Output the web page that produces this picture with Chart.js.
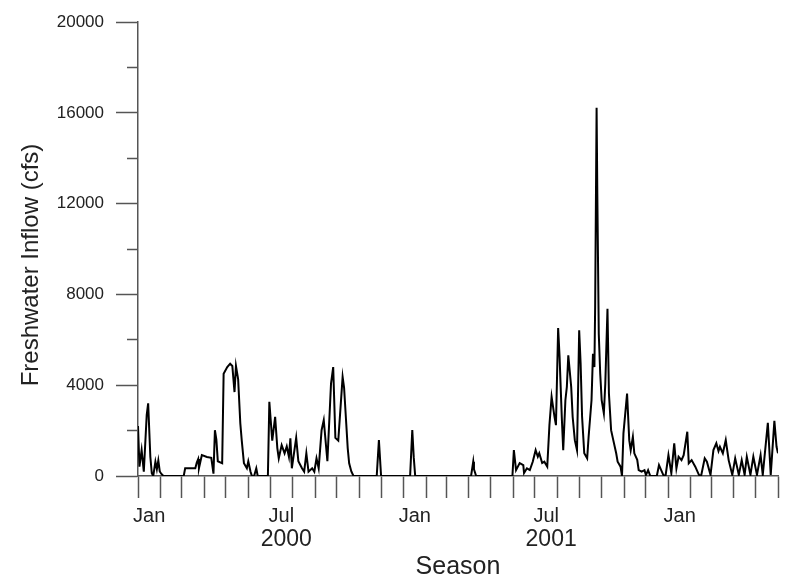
<!DOCTYPE html>
<html>
<head>
<meta charset="utf-8">
<script src="https://cdn.jsdelivr.net/npm/chart.js@4.4.1/dist/chart.umd.min.js"></script>
<style>
  html, body { margin: 0; padding: 0; background: #fff; }
  canvas { display: block; }
</style>
</head>
<body>
<canvas id="inflowChart" width="787" height="580"></canvas>
<script>
    // Days since 1 Jan 2000 and daily freshwater inflow (cfs)
    const days = [0, 2, 5, 8, 12, 14, 17, 19, 21, 24, 26, 28, 30, 32, 35,
        63, 65, 79, 81, 83, 84, 88, 95, 101, 104, 106, 108, 110, 116, 118,
        123, 127, 130, 133, 135, 138, 141, 143, 146, 150, 152, 155, 157, 160, 163,
        165, 179, 181, 185, 189, 192, 194, 198, 202, 205, 208, 210, 212, 218, 221,
        226, 229, 232, 235, 240, 243, 246, 249, 253, 256, 261, 266, 269, 272, 276,
        282, 284, 287, 289, 291, 294, 297, 329, 332, 335, 375, 378, 380, 382, 459,
        462, 463, 466, 516, 518, 521, 526, 531, 532, 536, 540, 544, 548, 551, 553,
        557, 560, 564, 567, 570, 574, 576, 579, 581, 584, 586, 589, 591, 593, 597,
        599, 602, 605, 608, 610, 612, 615, 619, 621, 625, 627, 629, 630, 632, 633,
        635, 637, 639, 642, 644, 647, 649, 652, 655, 659, 661, 665, 667, 669, 674,
        677, 679, 682, 684, 688, 690, 694, 698, 700, 703, 706, 715, 718, 721, 724,
        727, 731, 735, 739, 742, 745, 749, 752, 757, 759, 763, 768, 773, 776, 781,
        784, 789, 793, 797, 800, 802, 806, 810, 814, 819, 823, 828, 832, 836, 839,
        844, 848, 853, 858, 861, 868, 872, 877, 880, 882];

    const flow = [2200, 410, 1140, 190, 2680, 3200, 850, 120, 0, 630, 300, 680, 200, 100, 0,
        0, 340, 340, 590, 750, 340, 920, 840, 800, 100, 2020, 1600, 650, 560, 4510,
        4800, 4950, 4850, 3700, 4850, 4270, 2320, 1560, 560, 340, 650, 200, 0, 0, 340,
        0, 0, 3270, 1560, 2610, 1230, 780, 1360, 1000, 1300, 850, 1660, 340, 1680, 650,
        340, 190, 1000, 190, 340, 190, 780, 340, 2020, 2460, 650, 4070, 4800, 1680, 1560,
        4370, 3900, 2300, 1230, 560, 200, 0, 0, 1580, 0, 0, 2020, 830, 0, 0,
        630, 300, 0, 0, 1140, 260, 570, 480, 130, 340, 260, 630, 1140, 850, 1000,
        570, 630, 410, 2240, 3490, 2610, 2240, 6520, 5240, 2610, 1140, 3340, 3930, 5320, 3930,
        2610, 1580, 1140, 6420, 4950, 2610, 1000, 780, 1730, 3340, 5390, 4800, 7440, 16230, 12430,
        6270, 4510, 3340, 2760, 4070, 7370, 3630, 2020, 1580, 1000, 630, 410, 0, 1880, 3630,
        1580, 1140, 1730, 1000, 710, 260, 190, 260, 40, 260, 0, 0, 480, 260, 40,
        0, 920, 120, 1440, 340, 850, 700, 920, 1950, 560, 700, 410, 50, 0, 780,
        630, 50, 1140, 1440, 1100, 1290, 1000, 1580, 700, 50, 780, 50, 700, 50, 850,
        50, 850, 50, 920, 50, 2340, 50, 2430, 1290, 1000];

    // Axis labels
    const seasonLabels = ['Jan', 'Jul', 'Jan', 'Jul', 'Jan'];
    const seasonMonths = [0, 6, 12, 18, 24];
    const yearLabels = ['2000', '2001'];
    const yearMonths = [6, 18];
    const monthCount = 29;
    const yTitle = 'Freshwater Inflow (cfs)';

    const FONT = 'Arial, "Liberation Sans", sans-serif';
    const AXIS_COLOR = '#555';

    // day offset for the start of month m (counted from Jan 2000)
    function monthStart(m) {
        return (Date.UTC(2000, m, 1) - Date.UTC(2000, 0, 1)) / 86400000;
    }
    function monthMid(m) {
        return (monthStart(m) + monthStart(m + 1)) / 2;
    }

    const points = days.map((d, i) => ({ x: d, y: flow[i] }));

    // Month names and years sit between the tick marks; y title sits a bit low
    const seasonLabelPlugin = {
        id: 'seasonLabels',
        afterDraw(chart) {
            const ctx = chart.ctx;
            const xs = chart.scales.x;
            ctx.save();
            ctx.fillStyle = '#222';
            ctx.textAlign = 'center';
            ctx.textBaseline = 'middle';
            ctx.font = '20px ' + FONT;
            seasonLabels.forEach((txt, i) => {
                ctx.fillText(txt, xs.getPixelForValue(monthMid(seasonMonths[i])), 516);
            });
            ctx.font = '23px ' + FONT;
            yearLabels.forEach((txt, i) => {
                ctx.fillText(txt, xs.getPixelForValue(monthMid(yearMonths[i])) + 5, 540);
            });
            ctx.translate(31, 265);
            ctx.rotate(-Math.PI / 2);
            ctx.font = '24px ' + FONT;
            ctx.fillText(yTitle, 0, 0);
            ctx.restore();
        }
    };

    new Chart(document.getElementById('inflowChart'), {
        type: 'line',
        data: {
            datasets: [{
                data: points,
                borderColor: '#000',
                borderWidth: 2,
                pointRadius: 0,
                tension: 0,
                fill: false
            }]
        },
        options: {
            responsive: false,
            animation: false,
            parsing: false,
            layout: { padding: { top: 21, right: 9, left: 0, bottom: 0 } },
            plugins: {
                legend: { display: false },
                tooltip: { enabled: false }
            },
            scales: {
                x: {
                    type: 'linear',
                    min: 0,
                    max: monthStart(monthCount),
                    afterBuildTicks: scale => {
                        const ticks = [];
                        for (let m = 0; m <= monthCount; m++) ticks.push({ value: monthStart(m) });
                        scale.ticks = ticks;
                    },
                    afterFit: scale => { scale.height = 104; },
                    ticks: { display: false },
                    grid: {
                        drawOnChartArea: false,
                        drawTicks: true,
                        tickLength: 22,
                        tickColor: AXIS_COLOR,
                        tickWidth: 1.5
                    },
                    border: { color: AXIS_COLOR, width: 1.5 },
                    title: {
                        display: true,
                        text: 'Season',
                        color: '#222',
                        font: { family: FONT, size: 25, lineHeight: 1 },
                        padding: { top: 0, bottom: 0 }
                    }
                },
                y: {
                    min: 0,
                    max: 20000,
                    afterFit: scale => { scale.width = 138; },
                    ticks: {
                        stepSize: 2000,
                        color: '#222',
                        padding: 12,
                        font: { family: FONT, size: 17 },
                        callback: v => (v % 4000 === 0 ? String(v) : '')
                    },
                    grid: {
                        drawOnChartArea: false,
                        drawTicks: true,
                        tickLength: 22,
                        tickColor: AXIS_COLOR,
                        tickWidth: 1.5,
                        tickBorderDash: ctx => (ctx.tick && ctx.tick.value % 4000 !== 0 ? [0, 11, 11] : [])
                    },
                    border: { color: AXIS_COLOR, width: 1.5 }
                }
            }
        },
        plugins: [seasonLabelPlugin]
    });
</script>
</body>
</html>
